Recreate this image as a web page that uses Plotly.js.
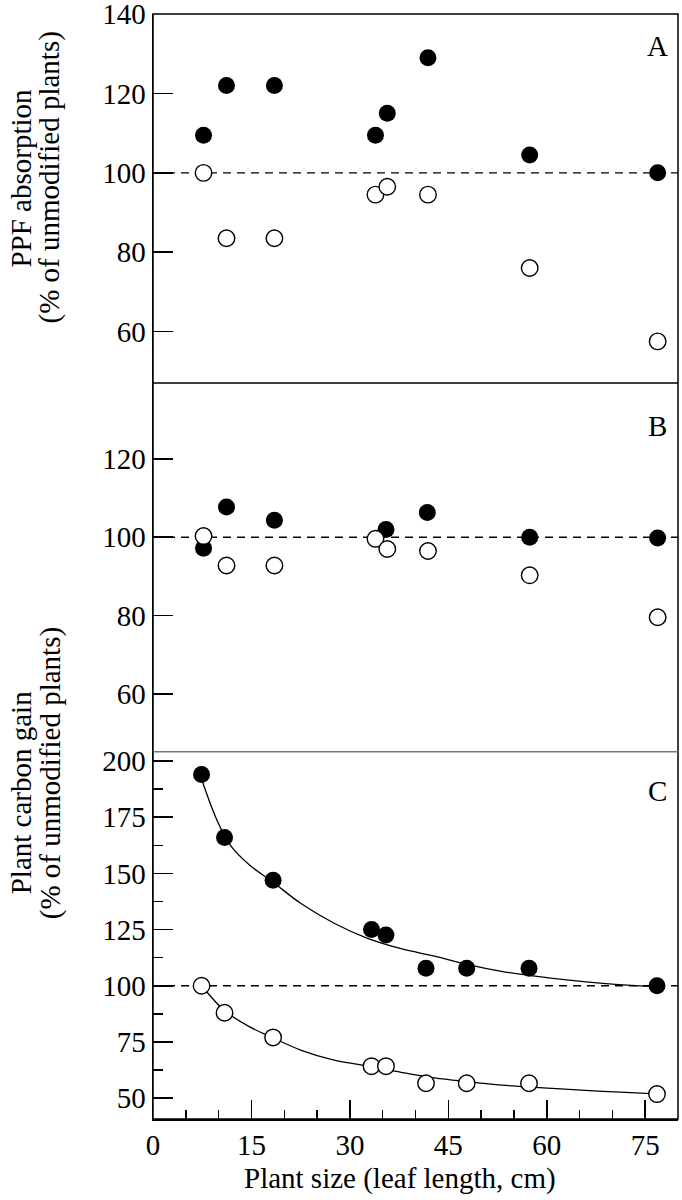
<!DOCTYPE html>
<html>
<head>
<meta charset="utf-8">
<script src="https://cdn.plot.ly/plotly-3.0.1.min.js"></script>
<style>
  html, body { margin: 0; padding: 0; background: #fff; }
  #chart { width: 682px; height: 1200px; }
</style>
</head>
<body>
<div id="chart"></div>
<script>
// ---------------- data ----------------
// Panel A: PPF absorption (% of unmodified plants)
const sizeAB = [7.7, 11.2, 18.5, 33.9, 35.7, 41.9, 57.4, 76.9];
const ppfFilled = [109.5, 122, 122, 109.5, 115, 129, 104.5, 100];
const ppfOpen = [100, 83.5, 83.5, 94.5, 96.5, 94.5, 76, 57.5];

// Panel B
const sizeBFilled = [7.7, 11.2, 18.5, 35.5, 41.8, 57.4, 76.9];
const bFilled = [97.2, 107.7, 104.3, 102, 106.3, 100, 99.8];
const bOpen = [100.3, 92.8, 92.8, 99.6, 97, 96.5, 90.3, 79.6];

// Panel C: Plant carbon gain (% of unmodified plants)
const sizeC = [7.4, 10.9, 18.3, 33.3, 35.5, 41.6, 47.8, 57.3, 76.8];
const carbonFilled = [194, 166, 147, 125, 122.6, 107.8, 107.8, 107.8, 100];
const carbonOpen = [100, 88, 77, 64.2, 64.2, 56.6, 56.6, 56.6, 51.8];

// fitted curves in panel C
const fitFilledX = [7.4, 9.7, 11.8, 14.8, 18.2, 22.5, 27.6, 32.7, 37.8, 42.9, 48.0, 53.1, 58.2, 63.4, 68.5, 73.6, 76.8];
const fitFilledY = [192, 174, 162.5, 153.5, 146.3, 136.7, 127.8, 121.1, 116.5, 113.2, 109.4, 106.4, 104.3, 102.5, 101.1, 100.1, 99.7];
const fitOpenX = [7.4, 8.5, 10.9, 14.8, 18.3, 22.5, 27.6, 33.3, 37.8, 42.9, 48.0, 53.1, 58.2, 63.4, 68.5, 75.1, 76.8];
const fitOpenY = [99.8, 96.2, 88.9, 81.6, 76.8, 71.4, 66.9, 64.0, 61.5, 59.0, 57.3, 55.8, 54.8, 53.9, 53.0, 52.1, 51.8];

// tick labels
const xTicks = [0, 15, 30, 45, 60, 75];
const xMinor = [5, 10, 20, 25, 35, 40, 50, 55, 65, 70];
const yTicksA = [60, 80, 100, 120, 140];
const yTicksB = [60, 80, 100, 120];
const yTicksC = [50, 75, 100, 125, 150, 175, 200];
const yMinorC = [62.5, 87.5, 112.5, 137.5, 162.5, 187.5];

const panelLetters = ['A', 'B', 'C'];
const yTitleA = ['PPF absorption', '(% of unmodified plants)'];
const yTitleC = ['Plant carbon gain', '(% of unmodified plants)'];
const xTitle = 'Plant size (leaf length, cm)';

// ---------------- layout helpers ----------------
const W = 682, H = 1200;
const M = {l: 152.5, r: 4, t: 13.5, b: 81};
const PW = W - M.l - M.r, PH = H - M.t - M.b;
const px = X => (X - M.l) / PW;
const py = Y => (H - M.b - Y) / PH;

const FONT = 'Liberation Serif';
const tickFont = {family: FONT, size: 29, color: '#000'};
const textFont = {family: FONT, size: 29, color: '#000'};

const filledMarker = {symbol: 'circle', size: 17, color: '#000', line: {width: 0}};
const openMarker = {symbol: 'circle', size: 16.5, color: '#fff', line: {width: 1.4, color: '#000'}};

const traces = [
  {x: sizeAB, y: ppfFilled, xaxis: 'x', yaxis: 'y', mode: 'markers', marker: filledMarker},
  {x: sizeAB, y: ppfOpen, xaxis: 'x', yaxis: 'y', mode: 'markers', marker: openMarker},
  {x: sizeBFilled, y: bFilled, xaxis: 'x', yaxis: 'y2', mode: 'markers', marker: filledMarker},
  {x: sizeAB, y: bOpen, xaxis: 'x', yaxis: 'y2', mode: 'markers', marker: openMarker},
  {x: fitFilledX, y: fitFilledY, xaxis: 'x', yaxis: 'y3', mode: 'lines', line: {color: '#000', width: 1.3, shape: 'spline', smoothing: 1}},
  {x: fitOpenX, y: fitOpenY, xaxis: 'x', yaxis: 'y3', mode: 'lines', line: {color: '#000', width: 1.3, shape: 'spline', smoothing: 1}},
  {x: sizeC, y: carbonFilled, xaxis: 'x', yaxis: 'y3', mode: 'markers', marker: filledMarker},
  {x: sizeC, y: carbonOpen, xaxis: 'x', yaxis: 'y3', mode: 'markers', marker: openMarker}
];

const dA = [py(382.7), 1], dB = [py(751.7), py(382.7)], dC = [0, py(751.7)];

function yax(domain, range, tickvals, minor) {
  const a = {
    domain: domain, range: range, tickvals: tickvals, ticktext: tickvals.map(String), ticks: 'inside', ticklen: 20,
    tickwidth: 1.5, tickcolor: '#000', showline: true, linecolor: '#000', linewidth: 1.5,
    showgrid: false, zeroline: false, tickfont: tickFont, anchor: 'x', fixedrange: true,
    ticklabelstandoff: 0, ticklabeloverflow: 'allow'
  };
  if (minor) a.minor = {tickvals: minor, ticks: 'inside', ticklen: 10, tickwidth: 1.5, tickcolor: '#000', showgrid: false};
  return a;
}

const layout = {
  width: W, height: H,
  margin: M,
  paper_bgcolor: '#fff', plot_bgcolor: '#fff',
  showlegend: false,
  font: {family: FONT, color: '#000'},
  xaxis: {
    domain: [0, 1], range: [0, 80], anchor: 'y3', tickvals: xTicks, ticks: 'inside', ticklen: 19,
    tickwidth: 1.5, tickcolor: '#000', showline: true, linecolor: '#000', linewidth: 1.5,
    showgrid: false, zeroline: false, tickfont: tickFont, fixedrange: true, ticklabeloverflow: 'allow',
    minor: {tickvals: xMinor, ticks: 'inside', ticklen: 9, tickwidth: 1.5, tickcolor: '#000', showgrid: false}
  },
  yaxis: yax(dA, [47, 140.05], yTicksA),
  yaxis2: yax(dB, [45.3, 139.3], yTicksB),
  yaxis3: yax(dC, [40.7, 204.1], yTicksC, yMinorC),
  shapes: [
    {type: 'rect', xref: 'paper', yref: 'paper', x0: 0, x1: 1, y0: 0, y1: 1, line: {color: '#000', width: 1.5}},
    {type: 'line', xref: 'paper', yref: 'paper', x0: 0, x1: 1, y0: dA[0], y1: dA[0], line: {color: '#000', width: 1.5}},
    {type: 'line', xref: 'paper', yref: 'paper', x0: 0, x1: 1, y0: dB[0], y1: dB[0], line: {color: '#777', width: 1.5}},
    {type: 'line', xref: 'paper', yref: 'y', x0: 0, x1: 1, y0: 100, y1: 100, line: {color: '#000', width: 1.3, dash: '8px,6px'}, layer: 'below'},
    {type: 'line', xref: 'paper', yref: 'y2', x0: 0, x1: 1, y0: 100, y1: 100, line: {color: '#000', width: 1.3, dash: '8px,6px'}, layer: 'below'},
    {type: 'line', xref: 'paper', yref: 'y3', x0: 0, x1: 1, y0: 100, y1: 100, line: {color: '#000', width: 1.3, dash: '8px,6px'}, layer: 'below'}
  ],
  annotations: [
    {text: panelLetters[0], xref: 'paper', yref: 'paper', x: px(657), y: py(45.5), xanchor: 'center', yanchor: 'middle', showarrow: false, font: textFont},
    {text: panelLetters[1], xref: 'paper', yref: 'paper', x: px(657), y: py(426), xanchor: 'center', yanchor: 'middle', showarrow: false, font: textFont},
    {text: panelLetters[2], xref: 'paper', yref: 'paper', x: px(657), y: py(791), xanchor: 'center', yanchor: 'middle', showarrow: false, font: textFont},
    {text: yTitleA[0], xref: 'paper', yref: 'paper', x: px(20.5), y: py(178), textangle: -90, xanchor: 'center', yanchor: 'middle', showarrow: false, font: textFont},
    {text: yTitleA[1], xref: 'paper', yref: 'paper', x: px(49), y: py(177.5), textangle: -90, xanchor: 'center', yanchor: 'middle', showarrow: false, font: textFont},
    {text: yTitleC[0], xref: 'paper', yref: 'paper', x: px(20.5), y: py(793), textangle: -90, xanchor: 'center', yanchor: 'middle', showarrow: false, font: textFont},
    {text: yTitleC[1], xref: 'paper', yref: 'paper', x: px(50), y: py(773.5), textangle: -90, xanchor: 'center', yanchor: 'middle', showarrow: false, font: textFont},
    {text: xTitle, xref: 'paper', yref: 'paper', x: px(400), y: py(1179), xanchor: 'center', yanchor: 'middle', showarrow: false, font: textFont}
  ]
};

Plotly.newPlot('chart', traces, layout, {staticPlot: true, displayModeBar: false});
</script>
</body>
</html>
